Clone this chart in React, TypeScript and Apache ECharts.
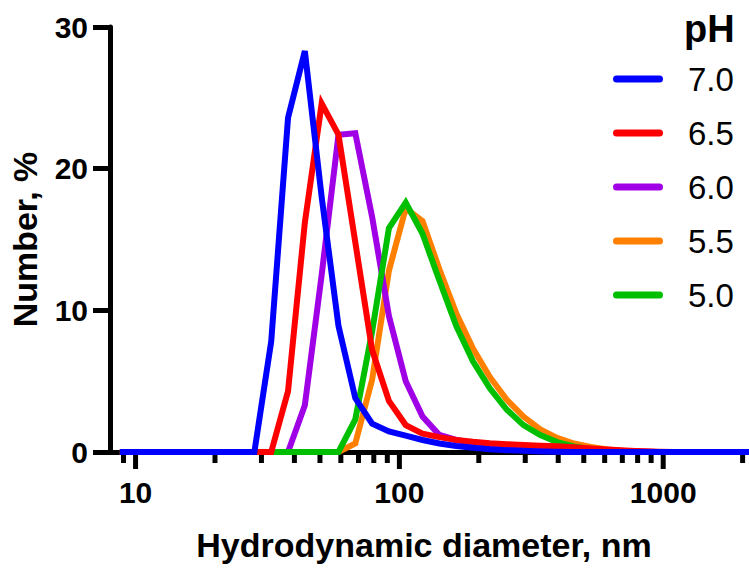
import React, { useEffect, useRef } from "react";
import * as echarts from "echarts";

// Hydrodynamic diameter size classes (nm)
const sizes = [8.721, 10.1, 11.7, 13.54, 15.69, 18.17, 21.04, 24.36, 28.21, 32.67, 37.84, 43.82, 50.75, 58.77, 68.06, 78.82, 91.28, 105.7, 122.4, 141.8, 164.2, 190.1, 220.2, 255.0, 295.3, 342.0, 396.1, 458.7, 531.2, 615.1, 712.4, 825.0, 955.4, 1106, 1281, 1484, 1718, 1990, 2305];

// Number distribution, %
const ph70 = [0, 0, 0, 0, 0, 0, 0, 0, 0, 7.8, 23.6, 28.3, 18.0, 8.9, 3.8, 2.0, 1.45, 1.15, 0.85, 0.6, 0.42, 0.3, 0.2, 0.13, 0.08, 0.04, 0.02, 0, 0, 0, 0, 0, 0, 0, 0, 0, 0, 0, 0];
const ph65 = [0, 0, 0, 0, 0, 0, 0, 0, 0, 0, 4.3, 16.2, 24.6, 22.4, 14.8, 7.2, 3.6, 1.9, 1.3, 1.05, 0.85, 0.72, 0.62, 0.55, 0.5, 0.45, 0.4, 0.33, 0.25, 0.17, 0.1, 0.05, 0.02, 0, 0, 0, 0, 0, 0];
const ph60 = [0, 0, 0, 0, 0, 0, 0, 0, 0, 0, 0, 3.3, 12.5, 22.4, 22.5, 16.6, 9.6, 5.0, 2.5, 1.2, 0.85, 0.65, 0.55, 0.5, 0.45, 0.4, 0.35, 0.28, 0.2, 0.12, 0.07, 0.03, 0, 0, 0, 0, 0, 0, 0];
const ph55 = [0, 0, 0, 0, 0, 0, 0, 0, 0, 0, 0, 0, 0, 0, 0.6, 5.1, 12.8, 17.2, 16.3, 12.9, 9.8, 7.3, 5.3, 3.7, 2.5, 1.6, 1.0, 0.6, 0.35, 0.18, 0.08, 0.03, 0, 0, 0, 0, 0, 0, 0];
const ph50 = [0, 0, 0, 0, 0, 0, 0, 0, 0, 0, 0, 0, 0, 0, 2.3, 8.5, 15.8, 17.6, 15.4, 12.1, 8.9, 6.4, 4.5, 3.0, 1.9, 1.2, 0.7, 0.4, 0.2, 0.1, 0.05, 0, 0, 0, 0, 0, 0, 0, 0];

const legendNames = ["7.0", "6.5", "6.0", "5.5", "5.0"];
const xTickLabels = ["10", "100", "1000"];
const majorTicks = [10, 100, 1000];
const minorTicks = [9, 20, 30, 40, 50, 60, 70, 80, 90, 200, 300, 400, 500, 600, 700, 800, 900, 2000];
const yTicks = [0, 10, 20, 30];

const FONT = "'Liberation Sans', Arial, Helvetica, sans-serif";

export default function App() {
  const ref = useRef<HTMLDivElement>(null);

  useEffect(() => {
    if (!ref.current) return;
    const chart = echarts.init(ref.current, null, { renderer: "svg" });

    const mk = (name: string, vals: number[], color: string) => ({
      name,
      type: "line",
      data: sizes.map((s, i) => [s, vals[i]]),
      showSymbol: false,
      symbol: "none",
      color,
      itemStyle: { color },
      lineStyle: { color, width: 6, join: "miter", cap: "butt", miterLimit: 10 },
      z: 3,
    });

    const tickSeries = (vals: number[], len: number) => ({
      type: "custom",
      coordinateSystem: "cartesian2d",
      silent: true,
      z: 1,
      clip: false,
      data: vals.map((v) => [v, 0]),
      renderItem: (_p: any, api: any) => {
        const pt = api.coord([api.value(0), 0]);
        return {
          type: "line",
          shape: { x1: pt[0], y1: pt[1], x2: pt[0], y2: pt[1] + len },
          style: { stroke: "#000", lineWidth: 5 },
        };
      },
    });

    chart.setOption({
      animation: false,
      backgroundColor: "#fff",
      textStyle: { fontFamily: FONT },
      title: {
        text: "pH",
        left: 684,
        top: 10,
        padding: 0,
        textStyle: { fontSize: 38, fontWeight: "bold", color: "#000", fontFamily: FONT, lineHeight: 38 },
      },
      legend: {
        data: legendNames,
        orient: "vertical",
        left: 613,
        top: 62,
        padding: 0,
        itemWidth: 50,
        itemHeight: 7,
        itemGap: 20,
        selectedMode: false,
        icon: "path://M3.5,0 L46.5,0 A3.5,3.5 0 0 1 46.5,7 L3.5,7 A3.5,3.5 0 0 1 3.5,0 Z",
        textStyle: { fontSize: 33, color: "#000", fontFamily: FONT, lineHeight: 34, padding: [0, 0, 0, 20] },
      },
      grid: { left: 107, right: 0, top: 27, bottom: 116, containLabel: false },
      xAxis: {
        type: "log",
        logBase: 10,
        min: 8,
        max: 2060,
        name: "Hydrodynamic diameter, nm",
        nameLocation: "middle",
        nameGap: 76,
        nameTextStyle: { fontSize: 34, fontWeight: "bold", color: "#000", fontFamily: FONT, lineHeight: 34, padding: [0, 8, 0, 0] },
        axisLine: { show: true, lineStyle: { color: "#000", width: 5 } },
        axisTick: { show: false },
        minorTick: { show: false },
        splitLine: { show: false },
        axisLabel: {
          margin: 25,
          fontSize: 30,
          fontWeight: "bold",
          color: "#000",
          fontFamily: FONT,
          formatter: (v: number) => {
            const s = String(Math.round(v));
            return xTickLabels.includes(s) && Math.abs(v - Math.round(v)) < 1e-6 ? s : "";
          },
        },
      },
      yAxis: {
        type: "value",
        min: yTicks[0],
        max: yTicks[yTicks.length - 1],
        interval: 10,
        name: "Number, %",
        nameLocation: "middle",
        nameGap: 68,
        nameTextStyle: { fontSize: 34, fontWeight: "bold", color: "#000", fontFamily: FONT, lineHeight: 34 },
        axisLine: { show: true, lineStyle: { color: "#000", width: 5 } },
        axisTick: { show: true, length: 17, lineStyle: { color: "#000", width: 5 } },
        splitLine: { show: false },
        axisLabel: { margin: 22, fontSize: 30, fontWeight: "bold", color: "#000", fontFamily: FONT },
      },
      series: [
        tickSeries(minorTicks, 11),
        tickSeries(majorTicks, 17),
        mk("5.5", ph55, "#FF8000"),
        mk("6.0", ph60, "#A000E6"),
        mk("5.0", ph50, "#00BF00"),
        mk("6.5", ph65, "#FF0000"),
        mk("7.0", ph70, "#0000FF"),
      ],
    });

    return () => chart.dispose();
  }, []);

  return (
    <div
      ref={ref}
      style={{ position: "fixed", left: 0, top: 0, width: 749, height: 568, background: "#fff" }}
    />
  );
}
